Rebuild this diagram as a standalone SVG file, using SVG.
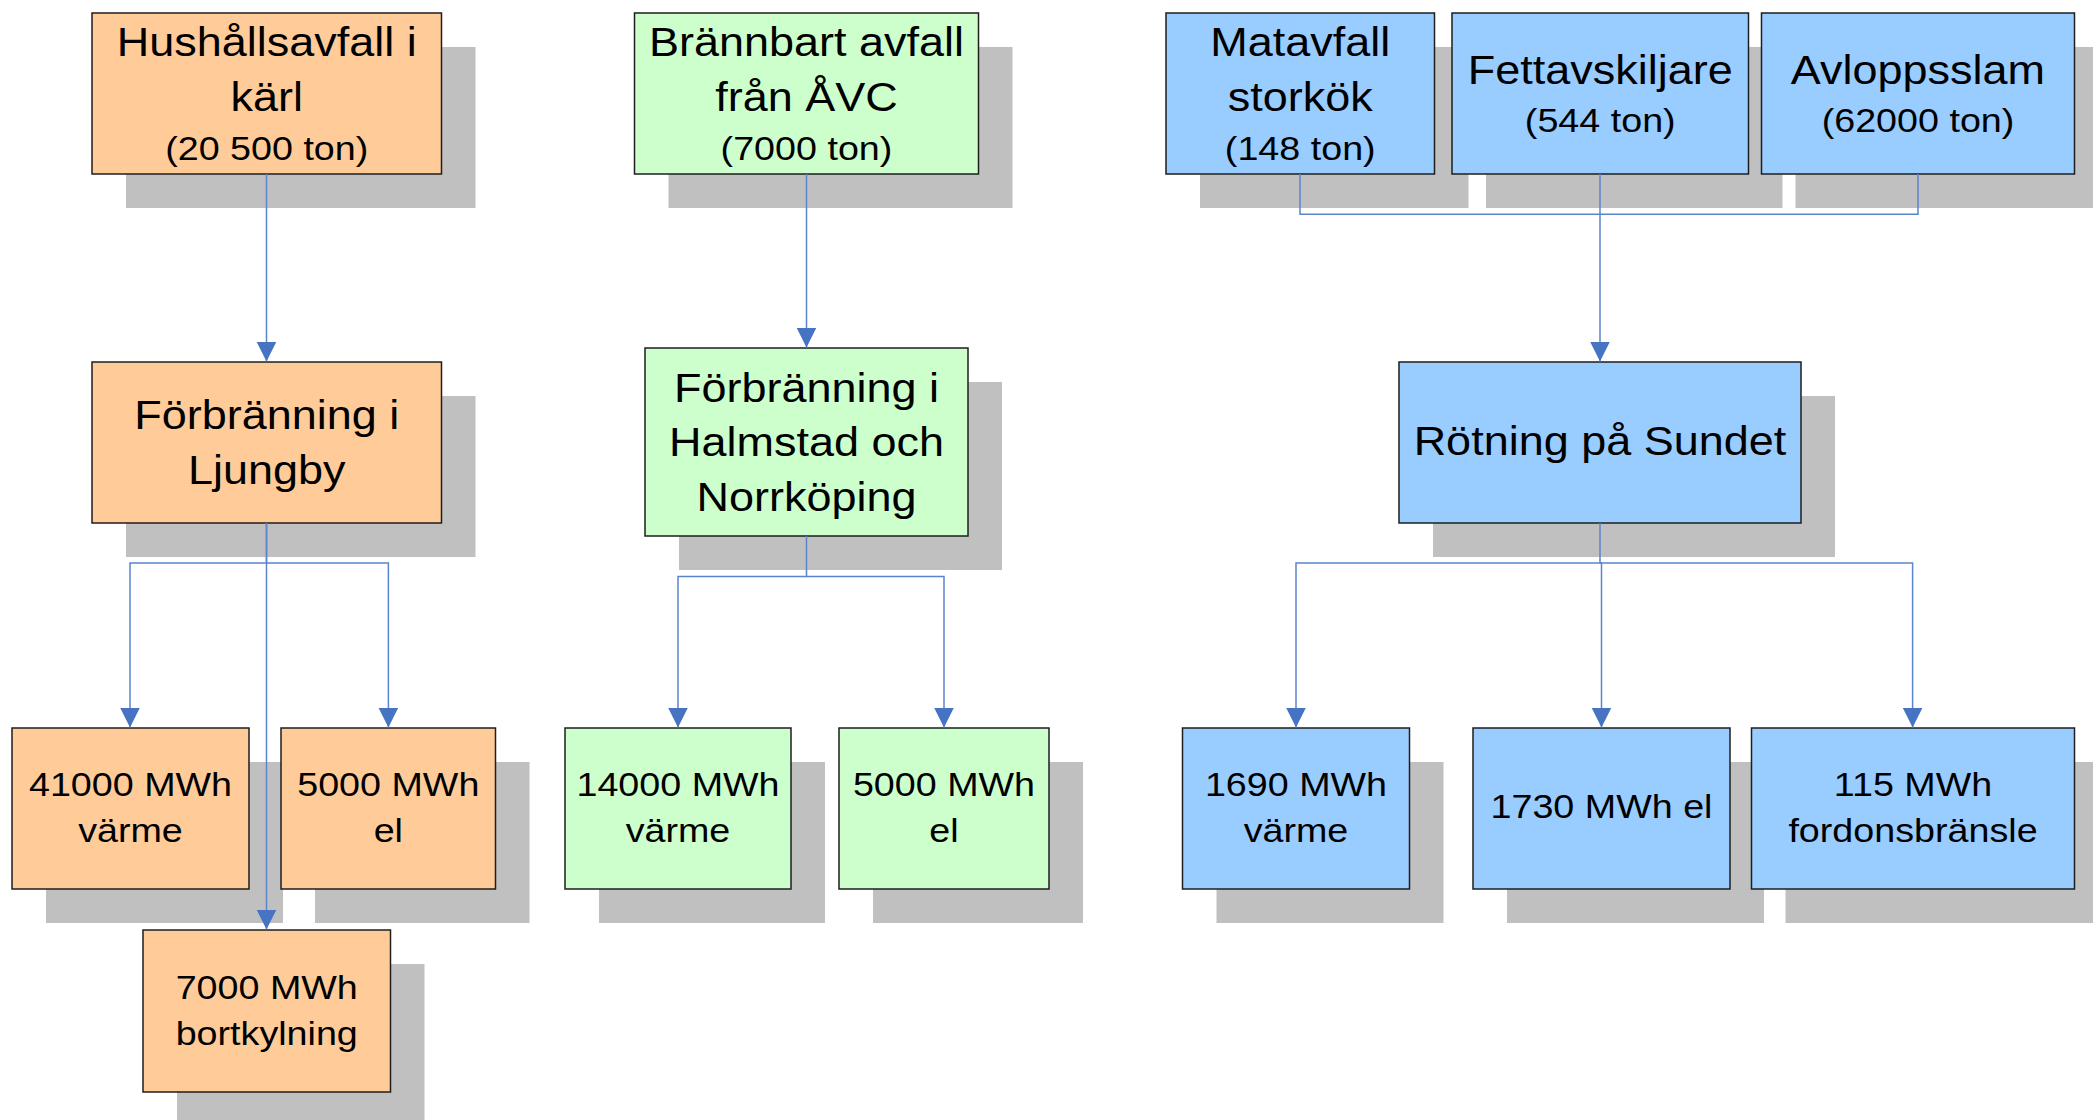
<svg xmlns="http://www.w3.org/2000/svg" width="2093" height="1120" viewBox="0 0 2093 1120">
<style>
.sh{fill:#c0c0c0}
.bx{stroke:#1e1e1e;stroke-width:1.5}
.or{fill:#ffcc99}
.gr{fill:#ccffcc}
.bl{fill:#99ccff}
.t{font-family:"Liberation Sans",Arial,sans-serif;text-anchor:middle;fill:#000;transform-box:fill-box;transform-origin:center;transform:scaleX(1.125)}
.big{font-size:40px}
.sm{font-size:33.5px}
.c{fill:none;stroke:#5a84cc;stroke-width:1.5}
</style>
<defs>
<marker id="ah" markerUnits="userSpaceOnUse" markerWidth="20" markerHeight="20" viewBox="0 0 20 20" refX="20" refY="10" orient="auto">
<path d="M0,0 L20,10 L0,20 z" fill="#4673c2"/>
</marker>
</defs>
<rect width="2093" height="1120" fill="#fff"/>

<g id="n-hushall">
<rect class="sh" x="126" y="47" width="349.5" height="161"/>
<rect class="bx or" x="92" y="13" width="349.5" height="161"/>
<text class="t big" x="266.75" y="56.4">Hushållsavfall i</text>
<text class="t big" x="266.75" y="111.4">kärl</text>
<text class="t sm" x="266.75" y="160">(20 500 ton)</text>
</g>
<g id="n-ljungby">
<rect class="sh" x="126" y="396" width="349.5" height="161"/>
<rect class="bx or" x="92" y="362" width="349.5" height="161"/>
<text class="t big" x="266.75" y="428.6">Förbränning i</text>
<text class="t big" x="266.75" y="484">Ljungby</text>
</g>
<g id="n-41000">
<rect class="sh" x="46" y="762" width="237" height="161"/>
<rect class="bx or" x="12" y="728" width="237" height="161"/>
<text class="t sm" x="130.5" y="796.4">41000 MWh</text>
<text class="t sm" x="130.5" y="842">värme</text>
</g>
<g id="n-5000o">
<rect class="sh" x="315" y="762" width="214.5" height="161"/>
<rect class="bx or" x="281" y="728" width="214.5" height="161"/>
<text class="t sm" x="388.3" y="796.4">5000 MWh</text>
<text class="t sm" x="388.3" y="842">el</text>
</g>
<g id="n-7000">
<rect class="sh" x="177" y="964" width="247.5" height="162"/>
<rect class="bx or" x="143" y="930" width="247.5" height="162"/>
<text class="t sm" x="266.75" y="999.3">7000 MWh</text>
<text class="t sm" x="266.75" y="1044.6">bortkylning</text>
</g>

<g id="n-brannbart">
<rect class="sh" x="668.5" y="47" width="344" height="161"/>
<rect class="bx gr" x="634.5" y="13" width="344" height="161"/>
<text class="t big" x="806.5" y="56.4">Brännbart avfall</text>
<text class="t big" x="806.5" y="111.4">från ÅVC</text>
<text class="t sm" x="806.5" y="160">(7000 ton)</text>
</g>
<g id="n-halmstad">
<rect class="sh" x="679" y="382" width="323" height="188"/>
<rect class="bx gr" x="645" y="348" width="323" height="188"/>
<text class="t big" x="806.5" y="401.8">Förbränning i</text>
<text class="t big" x="806.5" y="456.4">Halmstad och</text>
<text class="t big" x="806.5" y="510.7">Norrköping</text>
</g>
<g id="n-14000">
<rect class="sh" x="599" y="762" width="226" height="161"/>
<rect class="bx gr" x="565" y="728" width="226" height="161"/>
<text class="t sm" x="678" y="796.4">14000 MWh</text>
<text class="t sm" x="678" y="842">värme</text>
</g>
<g id="n-5000g">
<rect class="sh" x="873" y="762" width="210" height="161"/>
<rect class="bx gr" x="839" y="728" width="210" height="161"/>
<text class="t sm" x="944" y="796.4">5000 MWh</text>
<text class="t sm" x="944" y="842">el</text>
</g>

<g id="n-matavfall">
<rect class="sh" x="1200" y="47" width="268.5" height="161"/>
<rect class="bx bl" x="1166" y="13" width="268.5" height="161"/>
<text class="t big" x="1300.25" y="56.4">Matavfall</text>
<text class="t big" x="1300.25" y="111.4">storkök</text>
<text class="t sm" x="1300.25" y="160">(148 ton)</text>
</g>
<g id="n-fett">
<rect class="sh" x="1486" y="47" width="296.5" height="161"/>
<rect class="bx bl" x="1452" y="13" width="296.5" height="161"/>
<text class="t big" x="1600.25" y="84">Fettavskiljare</text>
<text class="t sm" x="1600.25" y="132">(544 ton)</text>
</g>
<g id="n-avlopp">
<rect class="sh" x="1795.5" y="47" width="313" height="161"/>
<rect class="bx bl" x="1761.5" y="13" width="313" height="161"/>
<text class="t big" x="1918" y="84">Avloppsslam</text>
<text class="t sm" x="1918" y="132">(62000 ton)</text>
</g>
<g id="n-rotning">
<rect class="sh" x="1433" y="396" width="402" height="161"/>
<rect class="bx bl" x="1399" y="362" width="402" height="161"/>
<text class="t big" x="1600" y="455.4">Rötning på Sundet</text>
</g>
<g id="n-1690">
<rect class="sh" x="1216.5" y="762" width="227" height="161"/>
<rect class="bx bl" x="1182.5" y="728" width="227" height="161"/>
<text class="t sm" x="1296" y="796.4">1690 MWh</text>
<text class="t sm" x="1296" y="842">värme</text>
</g>
<g id="n-1730">
<rect class="sh" x="1507" y="762" width="257" height="161"/>
<rect class="bx bl" x="1473" y="728" width="257" height="161"/>
<text class="t sm" x="1601.5" y="817.9">1730 MWh el</text>
</g>
<g id="n-115">
<rect class="sh" x="1785.5" y="762" width="323" height="161"/>
<rect class="bx bl" x="1751.5" y="728" width="323" height="161"/>
<text class="t sm" x="1913" y="796.4">115 MWh</text>
<text class="t sm" x="1913" y="842">fordonsbränsle</text>
</g>

<g id="connectors">
<path class="c" d="M266.5,174 V361.5" marker-end="url(#ah)"/>
<path class="c" d="M266.5,523 V563 H130 V727.5" marker-end="url(#ah)"/>
<path class="c" d="M266.5,563 H388.4 V727.5" marker-end="url(#ah)"/>
<path class="c" d="M266.5,523 V929.5" marker-end="url(#ah)"/>
<path class="c" d="M806.5,174 V347.5" marker-end="url(#ah)"/>
<path class="c" d="M806.5,536 V576.5 H678 V727.5" marker-end="url(#ah)"/>
<path class="c" d="M806.5,576.5 H944 V727.5" marker-end="url(#ah)"/>
<path class="c" d="M1300,174 V214.3 H1918 V174"/>
<path class="c" d="M1600,174 V361.5" marker-end="url(#ah)"/>
<path class="c" d="M1600,523 V563 H1296 V727.5" marker-end="url(#ah)"/>
<path class="c" d="M1600,563 H1601.5 V727.5" marker-end="url(#ah)"/>
<path class="c" d="M1600,563 H1912.6 V727.5" marker-end="url(#ah)"/>
</g>
</svg>
